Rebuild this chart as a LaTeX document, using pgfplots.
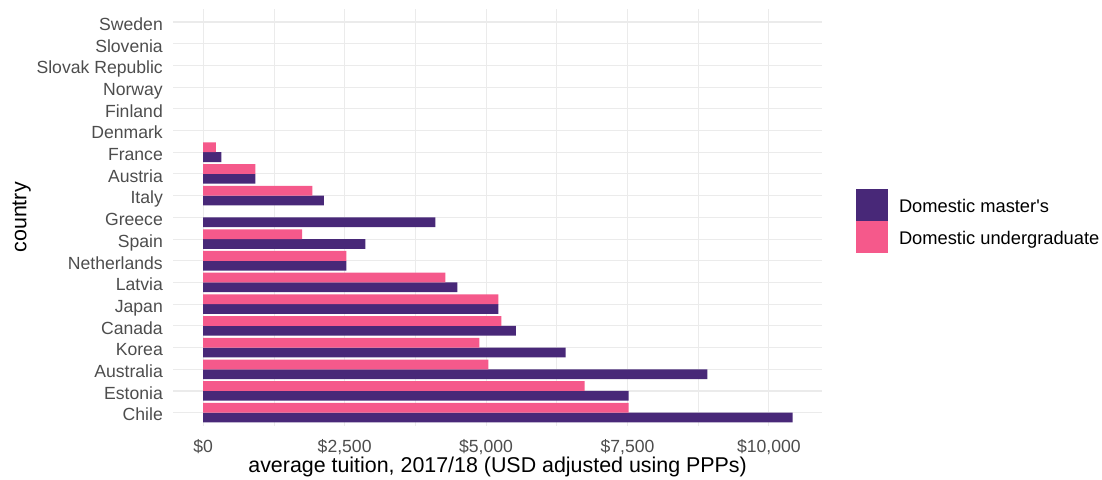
\documentclass[border=0pt]{standalone}
\usepackage{fontspec}
\setmainfont{Liberation Sans}
\usepackage{pgfplots}
\pgfplotsset{compat=1.18}
\definecolor{mpurple}{HTML}{482878}
\definecolor{mpink}{HTML}{F5598B}
\definecolor{gridc}{HTML}{EBEBEB}
\definecolor{ticktext}{HTML}{4D4D4D}
\begin{document}
\begin{tikzpicture}
\useasboundingbox (0,0) rectangle (1102pt,479pt);
\begin{axis}[
  at={(173pt,53.3pt)}, anchor=south west,
  width=649.2pt, height=416.7pt, scale only axis,
  xmin=-534, xmax=10942,
  ymin=-0.6, ymax=18.6,
  xtick={0,2500,5000,7500,10000},
  xticklabels={\$0,{\$2,500},{\$5,000},{\$7,500},{\$10,000}},
  minor xtick={1250,3750,6250,8750},
  ytick={0,...,18},
  yticklabels={Chile,Estonia,Australia,Korea,Canada,Japan,Latvia,Netherlands,Spain,Greece,Italy,Austria,France,Denmark,Finland,Norway,Slovak Republic,Slovenia,Sweden},
  xmajorgrids, xminorgrids, ymajorgrids,
  major grid style={gridc, line width=1.1pt},
  minor grid style={gridc, line width=0.6pt},
  axis line style={draw=none},
  major tick length=0pt, minor tick length=0pt,
  tick style={draw=none},
  xticklabel style={font=\fontsize{17.6}{20}\selectfont, color=ticktext, anchor=base, inner sep=0pt, yshift=-26.3pt},
  yticklabel style={font=\fontsize{17.6}{20}\selectfont, color=ticktext, anchor=base east, inner sep=0pt, xshift=-10pt, yshift=-8.3pt},
  xlabel={average tuition, 2017/18 (USD adjusted using PPPs)},
  xlabel style={font=\fontsize{21.4}{25}\selectfont, at={(axis description cs:0.5,0)}, anchor=base, inner sep=0pt, yshift=-46.3pt},
  ylabel={country},
  ylabel style={font=\fontsize{21.4}{25}\selectfont, at={(axis description cs:-0.2331,0.5)}, anchor=center, inner sep=0pt},
  legend style={at={(axis description cs:1,0.5)}, anchor=west, xshift=33.5pt, yshift=-3.6pt,
    draw=none, fill=none, inner sep=0pt, outer sep=0pt, row sep=0pt, column sep=11.3pt,
    font=\fontsize{18.3}{21}\selectfont,
    nodes={inner sep=0pt, text height=16pt, text depth=0pt}},
  legend cell align=left,
]
\addplot[xbar, bar width=0.45, bar shift=-0.225, fill=mpurple, draw=none,
  legend image code/.code={\fill[mpurple] (0pt,-16pt) rectangle (32pt,16pt);}]
  coordinates {(10421,0) (7522,1) (8911,2) (6408,3) (5529,4) (5217,5) (4492,6) (2530,7) (2866,8) (4103,9) (2135,10) (921,11) (320,12)};
\addlegendentry{Domestic master\textquotesingle s}
\addplot[xbar, bar width=0.45, bar shift=0.225, fill=mpink, draw=none,
  legend image code/.code={\fill[mpink] (0pt,-16pt) rectangle (32pt,16pt);}]
  coordinates {(7522,0) (6744,1) (5040,2) (4881,3) (5270,4) (5217,5) (4280,6) (2530,7) (1747,8) (1929,10) (921,11) (226,12)};
\addlegendentry{Domestic undergraduate}
\end{axis}
\end{tikzpicture}
\end{document}
